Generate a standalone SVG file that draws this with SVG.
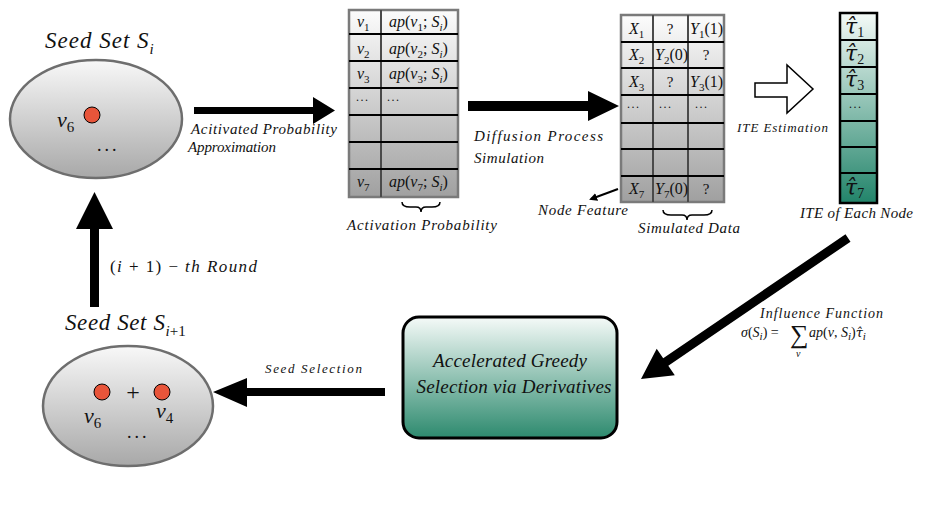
<svg xmlns="http://www.w3.org/2000/svg" width="926" height="521" viewBox="0 0 926 521">
<defs>
<linearGradient id="gEll" x1="0" y1="0" x2="0" y2="1"><stop offset="0" stop-color="#f8f8f8"/><stop offset="1" stop-color="#a8a8a8"/></linearGradient>
<linearGradient id="gTab" x1="0" y1="0" x2="0" y2="1"><stop offset="0" stop-color="#fcfcfc"/><stop offset="1" stop-color="#a0a0a0"/></linearGradient>
<linearGradient id="gTeal" x1="0" y1="0" x2="0" y2="1"><stop offset="0" stop-color="#f4faf7"/><stop offset="1" stop-color="#22846a"/></linearGradient>
<linearGradient id="gBox" x1="0" y1="0" x2="0" y2="1"><stop offset="0" stop-color="#f5faf8"/><stop offset="1" stop-color="#2d8a6e"/></linearGradient>
<marker id="mh" markerWidth="8" markerHeight="8" refX="6" refY="4" orient="auto" markerUnits="userSpaceOnUse"><path d="M0,0 L8,4 L0,8 z" fill="#000"/></marker>
<style>
text{font-family:"Liberation Serif","Times New Roman",serif;fill:#111;}
.it{font-style:italic;}
.rm{font-style:normal;}
.lbl{font-style:italic;font-size:15px;}
.cell{font-style:italic;font-size:16px;}
.sub{font-size:11px;}
.ell{fill:url(#gEll);stroke:#6e6e6e;stroke-width:2.5;}
.dot{fill:#e8553a;stroke:#000;stroke-width:1;}
.tab{fill:url(#gTab);stroke:#7a7a7a;stroke-width:2.5;}
.hl{stroke:#000;stroke-width:2;}
.vl{stroke:#4a4a4a;stroke-width:2;}
.brace{fill:none;stroke:#000;stroke-width:1.5;}
.arr{fill:#000;}
.tau{font-style:italic;font-size:22px;}
.dj{font-family:"DejaVu Serif",serif;}
</style>
</defs>

<g id="seedset-i">
<text x="45" y="48" class="it" font-size="23" letter-spacing="1">Seed Set S<tspan class="it" font-size="15" dy="6" letter-spacing="0">i</tspan></text>
<ellipse class="ell" cx="96" cy="119" rx="86" ry="59"/>
<circle class="dot" cx="92" cy="115" r="8"/>
<text x="57" y="127" class="it" font-size="22">v<tspan class="rm" font-size="15" dy="5">6</tspan></text>
<text x="97" y="151" class="rm" font-size="18" letter-spacing="3">...</text>
</g>

<g id="table-ap">
<rect class="tab" x="349" y="10" width="109" height="187"/>
<line class="vl" x1="381" y1="10" x2="381" y2="197"/>
<line class="hl" x1="349" y1="34" x2="458" y2="34"/>
<line class="hl" x1="349" y1="61" x2="458" y2="61"/>
<line class="hl" x1="349" y1="88" x2="458" y2="88"/>
<line class="hl" x1="349" y1="115" x2="458" y2="115"/>
<line class="hl" x1="349" y1="142" x2="458" y2="142"/>
<line class="hl" x1="349" y1="169" x2="458" y2="169"/>
<text x="357" y="27" class="cell">v<tspan class="sub rm" dy="4">1</tspan></text>
<text x="389" y="27" class="cell">ap<tspan class="rm">(</tspan>v<tspan class="sub rm" dy="4">1</tspan><tspan class="rm" dy="-4">; </tspan>S<tspan class="sub" dy="4">i</tspan><tspan class="rm" dy="-4">)</tspan></text>
<text x="357" y="54" class="cell">v<tspan class="sub rm" dy="4">2</tspan></text>
<text x="389" y="54" class="cell">ap<tspan class="rm">(</tspan>v<tspan class="sub rm" dy="4">2</tspan><tspan class="rm" dy="-4">; </tspan>S<tspan class="sub" dy="4">i</tspan><tspan class="rm" dy="-4">)</tspan></text>
<text x="357" y="79" class="cell">v<tspan class="sub rm" dy="4">3</tspan></text>
<text x="389" y="79" class="cell">ap<tspan class="rm">(</tspan>v<tspan class="sub rm" dy="4">3</tspan><tspan class="rm" dy="-4">; </tspan>S<tspan class="sub" dy="4">i</tspan><tspan class="rm" dy="-4">)</tspan></text>
<text x="356" y="101" class="rm" font-size="12" letter-spacing="1.5">...</text>
<text x="387" y="101" class="rm" font-size="12" letter-spacing="1.5">...</text>
<text x="357" y="187" class="cell">v<tspan class="sub rm" dy="4">7</tspan></text>
<text x="389" y="187" class="cell">ap<tspan class="rm">(</tspan>v<tspan class="sub rm" dy="4">7</tspan><tspan class="rm" dy="-4">; </tspan>S<tspan class="sub" dy="4">i</tspan><tspan class="rm" dy="-4">)</tspan></text>
<path class="brace" d="M402,202 Q402,207 410,207 L416,207 Q421,207 421,212 Q421,207 426,207 L432,207 Q440,207 440,202"/>
<text x="347" y="230" class="lbl" textLength="150" lengthAdjust="spacing">Activation Probability</text>
</g>

<g id="table-sim">
<rect class="tab" x="621" y="15" width="103" height="187"/>
<line class="vl" x1="653" y1="15" x2="653" y2="202"/>
<line class="vl" x1="688" y1="15" x2="688" y2="202"/>
<line class="hl" x1="621" y1="42" x2="724" y2="42"/>
<line class="hl" x1="621" y1="68" x2="724" y2="68"/>
<line class="hl" x1="621" y1="95" x2="724" y2="95"/>
<line class="hl" x1="621" y1="123" x2="724" y2="123"/>
<line class="hl" x1="621" y1="149" x2="724" y2="149"/>
<line class="hl" x1="621" y1="176" x2="724" y2="176"/>
<text x="629" y="34" class="cell">X<tspan class="sub rm" dy="4">1</tspan></text>
<text x="670" y="34" class="rm" font-size="15" text-anchor="middle">?</text>
<text x="690" y="34" class="cell" font-size="15">Y<tspan class="sub rm" dy="4">1</tspan><tspan class="rm" dy="-4">(1)</tspan></text>
<text x="629" y="60" class="cell">X<tspan class="sub rm" dy="4">2</tspan></text>
<text x="655" y="60" class="cell" font-size="15">Y<tspan class="sub rm" dy="4">2</tspan><tspan class="rm" dy="-4">(0)</tspan></text>
<text x="706" y="60" class="rm" font-size="15" text-anchor="middle">?</text>
<text x="629" y="87" class="cell">X<tspan class="sub rm" dy="4">3</tspan></text>
<text x="670" y="87" class="rm" font-size="15" text-anchor="middle">?</text>
<text x="690" y="87" class="cell" font-size="15">Y<tspan class="sub rm" dy="4">3</tspan><tspan class="rm" dy="-4">(1)</tspan></text>
<text x="627" y="108" class="rm" font-size="12" letter-spacing="1.5">...</text>
<text x="659" y="108" class="rm" font-size="12" letter-spacing="1.5">...</text>
<text x="695" y="108" class="rm" font-size="12" letter-spacing="1.5">...</text>
<text x="629" y="194" class="cell">X<tspan class="sub rm" dy="4">7</tspan></text>
<text x="655" y="194" class="cell" font-size="15">Y<tspan class="sub rm" dy="4">7</tspan><tspan class="rm" dy="-4">(0)</tspan></text>
<text x="706" y="194" class="rm" font-size="15" text-anchor="middle">?</text>
<path class="brace" d="M663,210 Q663,215 671,215 L682,215 Q687,215 687,220 Q687,215 692,215 L704,215 Q712,215 712,210"/>
<text x="638" y="233" class="lbl" textLength="102" lengthAdjust="spacing">Simulated Data</text>
<text x="538" y="215" class="lbl" textLength="90" lengthAdjust="spacing">Node Feature</text>
</g>

<g id="ite-column">
<rect x="840" y="13" width="37" height="190" fill="url(#gTeal)" stroke="#000" stroke-width="2.5"/>
<line class="hl" x1="840" y1="40" x2="877" y2="40"/>
<line class="hl" x1="840" y1="67" x2="877" y2="67"/>
<line class="hl" x1="840" y1="94" x2="877" y2="94"/>
<line class="hl" x1="840" y1="121" x2="877" y2="121"/>
<line class="hl" x1="840" y1="147" x2="877" y2="147"/>
<line class="hl" x1="840" y1="173" x2="877" y2="173"/>
<text x="845" y="34" class="tau dj">τ̂<tspan class="rm" font-family="Liberation Serif" font-size="14" dy="3">1</tspan></text>
<text x="845" y="61" class="tau dj">τ̂<tspan class="rm" font-family="Liberation Serif" font-size="14" dy="3">2</tspan></text>
<text x="845" y="87" class="tau dj">τ̂<tspan class="rm" font-family="Liberation Serif" font-size="14" dy="3">3</tspan></text>
<text x="849" y="108" class="rm" font-size="12" letter-spacing="1.5">...</text>
<text x="845" y="195" class="tau dj">τ̂<tspan class="rm" font-family="Liberation Serif" font-size="14" dy="3">7</tspan></text>
<text x="800" y="218" class="lbl" textLength="113" lengthAdjust="spacing">ITE of Each Node</text>
</g>

<g id="greedy-box">
<rect x="403" y="317" width="214" height="121" rx="16" ry="16" fill="url(#gBox)" stroke="#000" stroke-width="3"/>
<text x="510" y="367" class="it" font-size="19" text-anchor="middle" textLength="154" lengthAdjust="spacing">Accelerated Greedy</text>
<text x="514" y="393" class="it" font-size="19" text-anchor="middle" textLength="195" lengthAdjust="spacing">Selection via Derivatives</text>
</g>

<g id="seedset-i1">
<text x="65" y="330" class="it" font-size="23" letter-spacing="0.6">Seed Set S<tspan font-size="15" dy="6" letter-spacing="0">i<tspan class="rm">+1</tspan></tspan></text>
<ellipse class="ell" cx="128" cy="406" rx="85" ry="60"/>
<circle class="dot" cx="102" cy="392" r="8"/>
<text x="133" y="400" class="rm" font-size="24" text-anchor="middle">+</text>
<circle class="dot" cx="162" cy="392" r="8"/>
<text x="84" y="423" class="it" font-size="22">v<tspan class="rm" font-size="15" dy="5">6</tspan></text>
<text x="156" y="418" class="it" font-size="22">v<tspan class="rm" font-size="15" dy="5">4</tspan></text>
<text x="127" y="438" class="rm" font-size="18" letter-spacing="3">...</text>
</g>

<g id="connectors">
<polygon class="arr" points="194,107 313,107 313,97 335,110.5 313,124 313,114 194,114"/>
<polygon class="arr" points="468,101 588,101 588,91 619,106 588,121 588,111 468,111"/>
<polygon class="arr" points="90,307 90,229 76,229 94.5,192 113,229 99,229 99,307"/>
<polygon class="arr" points="385,388 247,388 247,378 213,392 247,407 247,396 385,396"/>
<polygon class="arr" points="845.5,234.3 663.2,358.3 656.7,348.8 641,379 674.8,375.2 668.3,365.7 850.5,241.7"/>
<polygon points="755,83 787,83 787,65 813,89 787,113 787,97 755,97" fill="#fff" stroke="#000" stroke-width="1.5"/>
<line x1="618" y1="189" x2="591" y2="199" stroke="#000" stroke-width="2" marker-end="url(#mh)"/>
</g>

<g id="labels">
<text x="191" y="134" class="lbl" textLength="146" lengthAdjust="spacing">Acitivated Probability</text>
<text x="188" y="152" class="lbl" textLength="88" lengthAdjust="spacing">Approximation</text>
<text x="474" y="141" class="lbl" textLength="129" lengthAdjust="spacing">Diffusion Process</text>
<text x="474" y="163" class="lbl" textLength="70" lengthAdjust="spacing">Simulation</text>
<text x="737" y="132" class="it" font-size="13" textLength="91" lengthAdjust="spacing">ITE Estimation</text>
<text x="110" y="272" class="it" font-size="17" textLength="147" lengthAdjust="spacing"><tspan class="rm">(</tspan>i<tspan class="rm"> + 1) − </tspan>th Round</text>
<text x="265" y="373" class="it" font-size="13" textLength="97" lengthAdjust="spacing">Seed Selection</text>
<text x="760" y="318" class="it" font-size="14" textLength="123" lengthAdjust="spacing">Influence Function</text>
<text x="741" y="337" class="it" font-size="14">σ<tspan class="rm">(</tspan>S<tspan class="sub" dy="3">i</tspan><tspan class="rm" dy="-3">) =</tspan></text>
<text x="790" y="343" class="rm" font-size="26">∑</text>
<text x="796" y="357" class="it" font-size="10">v</text>
<text x="809" y="337" class="it" font-size="14">ap<tspan class="rm">(</tspan>v<tspan class="rm">, </tspan>S<tspan class="sub" dy="3">i</tspan><tspan class="rm" dy="-3">)</tspan><tspan class="dj" font-size="13">τ̂</tspan><tspan class="sub" dy="3">i</tspan></text>
</g>
</svg>
